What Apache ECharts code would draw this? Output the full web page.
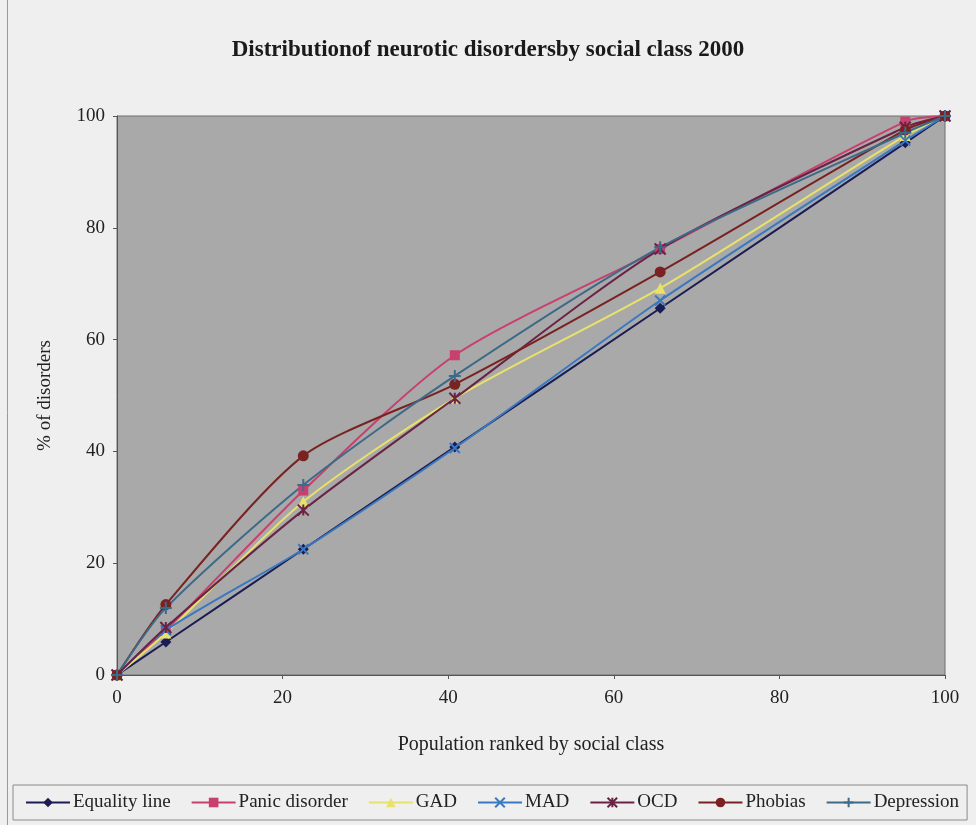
<!DOCTYPE html>
<html><head><meta charset="utf-8">
<script src="https://cdn.jsdelivr.net/npm/echarts@6/dist/echarts.min.js"></script>
<style>html,body{margin:0;padding:0;background:#efefef}#c{width:976px;height:825px}</style>
</head><body><div id="c"></div>
<script>
var xPop = [0, 5.9, 22.5, 40.8, 65.6, 95.2, 100];
var equalityLine = [0, 5.9, 22.5, 40.8, 65.6, 95.2, 100];
var panicDisorder = [0, 8, 33, 57.2, 76.2, 99, 100];
var gad = [0, 7.5, 31, 49.5, 69.2, 96.5, 100];
var mad = [0, 8, 22.5, 40.6, 67, 95.6, 100];
var ocd = [0, 8.5, 29.5, 49.5, 76.2, 98, 100];
var phobias = [0, 12.6, 39.2, 52, 72.1, 97.5, 100];
var depression = [0, 12, 34, 53.5, 76.5, 97, 100];
var xTicks = [0, 20, 40, 60, 80, 100];
var yTicks = [0, 20, 40, 60, 80, 100];

var F = '"Liberation Serif","DejaVu Serif",serif';
function pts(ys){ return xPop.map(function(x,i){ return [x, ys[i]]; }); }
var X_PATH = 'path://M0,0L10,10M10,0L0,10';
var PLUS_PATH = 'path://M5,0L5,10M0,5L10,5';
var AST_PATH = 'path://M0,0L10,10M10,0L0,10M5,0L5,10';
function ser(name, ys, color, symbol, size, stroke){
  var it = {color: color};
  if (stroke) { it.borderColor = color; it.borderWidth = 2; }
  return {
    name: name, type: 'line', data: pts(ys), smooth: 0.25,
    symbol: symbol, symbolSize: size, showSymbol: true,
    lineStyle: {color: color, width: 2}, itemStyle: it, z: 2
  };
}
var chart = echarts.init(document.getElementById('c'), null, {renderer: 'canvas'});
chart.setOption({
  backgroundColor: '#efefef',
  animation: false,
  title: {
    text: 'Distributionof neurotic disordersby social class 2000',
    left: 'center', top: 34,
    textStyle: {fontFamily: F, fontSize: 23, fontWeight: 'bold', color: '#1a1a1a'}
  },
  graphic: [{
    type: 'rect', shape: {x: 7.5, y: -5, width: 980, height: 840},
    style: {fill: 'none', stroke: '#9a9a9a', lineWidth: 1}, silent: true, z: -1
  }],
  grid: {left: 117, right: 31, top: 116, bottom: 150, backgroundColor: '#a9a9a9', show: true, borderColor: '#6e6e6e', borderWidth: 1},
  xAxis: {
    type: 'value', min: 0, max: 100, interval: 20,
    name: 'Population ranked by social class', nameLocation: 'middle', nameGap: 60,
    nameTextStyle: {fontFamily: F, fontSize: 20, color: '#222'},
    axisLine: {show: true, lineStyle: {color: '#555'}},
    axisTick: {show: true, length: 4, lineStyle: {color: '#555'}},
    axisLabel: {fontFamily: F, fontSize: 19, color: '#222', margin: 14,
      formatter: function(v){ return xTicks.indexOf(v) >= 0 ? String(v) : ''; }},
    splitLine: {show: false}
  },
  yAxis: {
    type: 'value', min: 0, max: 100, interval: 20,
    name: '% of disorders', nameLocation: 'middle', nameGap: 62, nameRotate: 90,
    nameTextStyle: {fontFamily: F, fontSize: 19, color: '#222'},
    axisLine: {show: true, lineStyle: {color: '#555'}},
    axisTick: {show: true, length: 4, lineStyle: {color: '#555'}},
    axisLabel: {fontFamily: F, fontSize: 19, color: '#222', margin: 12,
      formatter: function(v){ return yTicks.indexOf(v) >= 0 ? String(v) : ''; }},
    splitLine: {show: false}
  },
  legend: {
    left: 13, top: 785, width: 960,
    itemWidth: 44, itemHeight: 12, itemGap: 20,
    padding: [8, 8, 8, 12],
    borderColor: '#8a8a8a', borderWidth: 1, backgroundColor: '#efefef',
    textStyle: {fontFamily: F, fontSize: 19, color: '#222', padding: [0, 0, 0, -2]},
    data: ['Equality line', 'Panic disorder', 'GAD', 'MAD', 'OCD', 'Phobias', 'Depression']
  },
  series: [
    ser('Equality line', equalityLine, '#1c1c55', 'diamond', 11, false),
    ser('Panic disorder', panicDisorder, '#c8406e', 'rect', 10, false),
    ser('GAD', gad, '#e8e26a', 'triangle', 11, false),
    ser('MAD', mad, '#3a78c0', X_PATH, 10, true),
    ser('OCD', ocd, '#6a2345', AST_PATH, 11, true),
    ser('Phobias', phobias, '#7a2222', 'circle', 11, false),
    ser('Depression', depression, '#3d6a88', PLUS_PATH, 12, true)
  ]
});
</script></body></html>
